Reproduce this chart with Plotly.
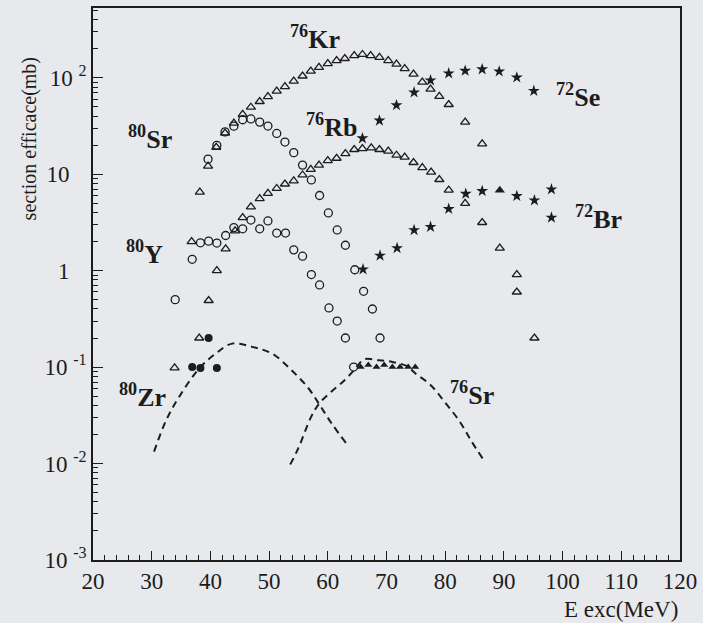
import plotly.graph_objects as go

# ---------------- data ----------------
kr76_E = [36.8, 38.2, 39.6, 41.0, 42.5, 44.0, 45.5, 46.9, 48.4, 49.8, 51.3, 52.7, 54.2, 55.7, 57.1, 58.5,
          60.0, 61.5, 62.9, 64.5, 65.9, 67.3, 68.8, 70.3, 71.7, 73.1, 74.6, 76.1, 77.5, 79.0, 80.6, 83.4, 86.3]
kr76_s = [2.0, 6.5, 12.1, 19.0, 26.7, 33.8, 41.6, 49.4, 56.6, 63.7, 72.6, 80.7, 92, 104, 117, 128,
          140, 150, 158, 169, 174, 169, 162, 150, 138, 124, 109, 90, 76, 64, 52.7, 34.6, 20.6]

rb76_E = [33.9, 38.1, 39.7, 41.1, 42.6, 44.2, 45.5, 46.9, 48.4, 49.8, 51.3, 52.7, 54.2, 55.7, 57.1, 58.5,
          60.0, 61.5, 63.0, 64.5, 65.9, 67.4, 68.8, 70.3, 71.7, 73.1, 74.6, 76.1, 77.6, 79.0, 80.6, 83.4,
          86.3, 89.3, 92.2, 92.2, 95.2]
rb76_s = [0.098, 0.20, 0.49, 1.0, 1.68, 2.58, 3.54, 4.57, 5.58, 6.32, 7.1, 7.9, 8.5, 9.8, 11.2, 12.4,
          13.8, 14.6, 16.3, 18.0, 18.4, 18.7, 18.0, 17.3, 15.7, 15.0, 13.2, 11.7, 10.5, 8.8, 6.84, 4.97,
          3.15, 1.71, 0.91, 0.60, 0.20]

sr80_E = [39.6, 41.1, 42.5, 44.0, 45.5, 46.9, 48.4, 49.8, 51.3, 52.7, 54.2, 55.7, 57.2, 58.6, 60.1,
          61.6, 63.0, 64.6, 66.1, 67.6, 68.9]
sr80_s = [14.3, 19.9, 27.4, 31.4, 36.6, 37.3, 34.6, 31.5, 26.4, 21.5, 16.7, 12.4, 8.7, 6.0, 3.96,
          2.64, 1.83, 1.02, 0.61, 0.40, 0.20]

y80_E = [34.0, 36.9, 38.3, 39.7, 41.1, 42.6, 44.0, 45.5, 46.9, 48.4, 49.8, 51.3, 52.8, 54.2, 55.7,
         57.2, 58.6, 60.2, 61.6, 63.0, 64.4]
y80_s = [0.50, 1.31, 1.94, 2.02, 1.93, 2.31, 2.79, 2.71, 3.34, 2.71, 3.27, 2.45, 2.45, 1.64, 1.41,
         0.91, 0.71, 0.41, 0.30, 0.20, 0.10]

se72_E = [65.9, 68.8, 71.7, 74.7, 77.5, 80.6, 83.4, 86.3, 89.2, 92.2, 95.1]
se72_s = [23.5, 35.9, 51.8, 70.3, 93.8, 110.8, 118, 122, 116, 100.5, 73]

br72_E = [66.0, 68.9, 71.8, 74.7, 77.5, 80.6, 83.5, 86.3, 92.2, 95.2, 98.1, 98.1]
br72_s = [1.03, 1.43, 1.71, 2.63, 2.84, 4.36, 6.26, 6.68, 5.93, 5.35, 6.95, 3.54]
br72x_E = [89.3]
br72x_s = [6.8]

zr80_E = [36.9, 38.3, 39.7, 41.1]
zr80_s = [0.10, 0.098, 0.20, 0.098]

sr76_E = [65.6, 66.9, 68.3, 69.6, 71.0, 72.3, 73.7, 74.9]
sr76_s = [0.10, 0.105, 0.10, 0.105, 0.10, 0.10, 0.10, 0.10]

zr80calc_E = [30.4, 32.5, 34.7, 38.1, 40.9, 43.7, 47.1, 50.5, 53.8, 56.7, 58.6, 60.6, 63.1]
zr80calc_s = [0.0133, 0.0284, 0.0494, 0.0970, 0.138, 0.175, 0.162, 0.138, 0.0931, 0.0603, 0.0406, 0.0263, 0.0163]

sr76calc_E = [53.6, 55.0, 57.2, 58.6, 60.6, 62.9, 64.5, 66.2, 68.5, 71.0, 73.5, 74.9, 77.5, 79.9, 82.5, 84.5, 86.5]
sr76calc_s = [0.00977, 0.0145, 0.0308, 0.0423, 0.0556, 0.0735, 0.0931, 0.120, 0.118, 0.113, 0.102, 0.0861,
              0.0652, 0.0436, 0.0271, 0.0169, 0.0110]

x_ticks = [20, 30, 40, 50, 60, 70, 80, 90, 100, 110, 120]
y_tickvals = [1e-3, 1e-2, 1e-1, 1, 10, 100]
y_ticktext = ["10 <sup>-3</sup>", "10 <sup>-2</sup>", "10 <sup>-1</sup>", "1\u00a0\u00a0\u00a0",
              "10\u00a0\u00a0\u00a0", "10 <sup>2</sup>"]

labels = ["<b><sup>76</sup>Kr</b>", "<b><sup>80</sup>Sr</b>", "<b><sup>76</sup>Rb</b>", "<b><sup>72</sup>Se</b>",
          "<b><sup>72</sup>Br</b>", "<b><sup>80</sup>Y</b>", "<b><sup>80</sup>Zr</b>", "<b><sup>76</sup>Sr</b>"]

# ---------------- styling ----------------
INK = "#1c1c1c"
BG = "#e7e9ec"
FONT = "Liberation Serif"

fig = go.Figure()

def pts(x, y, symbol, size, filled=False):
    marker = dict(symbol=symbol, size=size, color=INK)
    if not filled:
        marker["line"] = dict(color=INK, width=1.3)
    fig.add_trace(go.Scatter(x=x, y=y, mode="markers", marker=marker, showlegend=False))

def curve(x, y):
    fig.add_trace(go.Scatter(x=x, y=y, mode="lines", showlegend=False,
                             line=dict(color=INK, width=2, dash="7px,5px", shape="spline", smoothing=1.0)))

curve(zr80calc_E, zr80calc_s)
curve(sr76calc_E, sr76calc_s)
pts(kr76_E, kr76_s, "triangle-up-open", 8)
pts(rb76_E, rb76_s, "triangle-up-open", 8)
pts(sr80_E, sr80_s, "circle-open", 8)
pts(y80_E, y80_s, "circle-open", 8)
pts(se72_E, se72_s, "star", 9, filled=True)
pts(br72_E, br72_s, "star", 9, filled=True)
pts(br72x_E, br72x_s, "triangle-up", 9, filled=True)
pts(zr80_E, zr80_s, "circle", 8, filled=True)
pts(sr76_E, sr76_s, "triangle-up", 7, filled=True)

# isotope label positions (data coords: E, log10 sigma)
label_pos = [(57.9, 2.42), (29.7, 1.38), (60.7, 1.50), (102.6, 1.82),
             (106.2, 0.55), (28.8, 0.19), (28.4, -1.29), (84.6, -1.27)]
for txt, (lx, ly) in zip(labels, label_pos):
    fig.add_annotation(x=lx, y=ly, xref="x", yref="y", text=txt, showarrow=False,
                       font=dict(family=FONT, size=26, color=INK), xanchor="center", yanchor="middle")

fig.add_annotation(x=1.0, y=-0.09, xref="paper", yref="paper", text="E exc(MeV)", showarrow=False,
                   font=dict(family=FONT, size=23, color=INK), xanchor="right", yanchor="middle")
fig.add_annotation(x=-0.109, y=0.762, xref="paper", yref="paper", text="section efficace(mb)",
                   showarrow=False, textangle=-90,
                   font=dict(family=FONT, size=20, color=INK), xanchor="center", yanchor="middle")

minor_y = [m * 10 ** k for k in range(-3, 3) for m in range(2, 10)]

fig.update_layout(
    width=703, height=623,
    margin=dict(l=93, r=18, t=6, b=63),
    paper_bgcolor=BG, plot_bgcolor=BG,
    font=dict(family=FONT, size=20, color=INK),
    xaxis=dict(range=[20, 120], tickvals=x_ticks, ticks="inside", ticklen=9, tickwidth=1.3,
               tickcolor=INK, showgrid=False, zeroline=False, showline=True, linecolor=INK,
               linewidth=1.5, mirror=True,
               minor=dict(dtick=2, ticks="inside", ticklen=5, tickwidth=1.1, tickcolor=INK, showgrid=False),
               tickfont=dict(family=FONT, size=23, color=INK)),
    yaxis=dict(type="log", range=[-3, 2.722], tickvals=y_tickvals, ticktext=y_ticktext,
               ticks="inside", ticklen=10, tickwidth=1.3, tickcolor=INK, showgrid=False,
               zeroline=False, showline=True, linecolor=INK, linewidth=1.5, mirror=True,
               minor=dict(tickvals=minor_y, ticks="inside", ticklen=5, tickwidth=1.1, tickcolor=INK, showgrid=False),
               tickfont=dict(family=FONT, size=23, color=INK)),
)

fig.write_html("out.html", config={"displayModeBar": False},
               post_script="document.body.style.margin='0';document.body.style.background='#e7e9ec';")
